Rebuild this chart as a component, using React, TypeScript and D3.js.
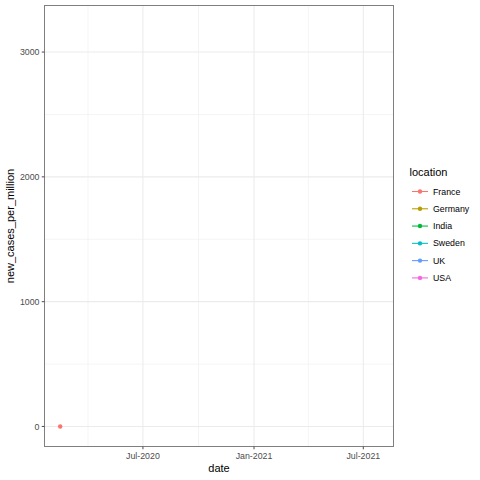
import React from "react";
import * as d3 from "d3";

const locations = ["France", "Germany", "India", "Sweden", "UK", "USA"];
const colors = ["#F8766D", "#B79F00", "#00BA38", "#00BFC4", "#619CFF", "#F564E3"];
const pointDates = ["2020-02-15"];
const pointLocations = ["France"];
const pointValues = [0];
const yTicks = [0, 1000, 2000, 3000];
const yMinor = [500, 1500, 2500];
const xTicks = ["2020-07-01", "2021-01-01", "2021-07-01"];
const xMinor = ["2020-04-01", "2020-10-01", "2021-04-01"];
const xTickLabels = ["Jul-2020", "Jan-2021", "Jul-2021"];

const W = 480, H = 480;
const L = 44.5, R = 393.5, T = 5.5, B = 446.5;
const font = "'Liberation Sans', Arial, Helvetica, sans-serif";

export default function App() {
  const parse = d3.utcParse("%Y-%m-%d");
  const x = d3.scaleUtc().domain([parse("2020-01-20")!, parse("2021-08-20")!]).range([L, R]);
  const y = d3.scaleLinear().domain([-160.6, 3373]).range([B, T]);
  return (
    <svg width={W} height={H} style={{ position: "absolute", left: 0, top: 0, background: "#fff" }}>
      <rect x={L} y={T} width={R - L} height={B - T} fill="#fff" />
      {yMinor.map((v) => (
        <line key={"ym" + v} x1={L} x2={R} y1={y(v)} y2={y(v)} stroke="#EBEBEB" strokeWidth={0.55} />
      ))}
      {xMinor.map((d) => (
        <line key={"xm" + d} y1={T} y2={B} x1={x(parse(d)!)} x2={x(parse(d)!)} stroke="#EBEBEB" strokeWidth={0.55} />
      ))}
      {yTicks.map((v) => (
        <line key={"yg" + v} x1={L} x2={R} y1={y(v)} y2={y(v)} stroke="#EBEBEB" strokeWidth={1.07} />
      ))}
      {xTicks.map((d) => (
        <line key={"xg" + d} y1={T} y2={B} x1={x(parse(d)!)} x2={x(parse(d)!)} stroke="#EBEBEB" strokeWidth={1.07} />
      ))}
      {pointDates.map((d, i) => (
        <circle key={"p" + i} cx={x(parse(d)!)} cy={y(pointValues[i])} r={2.2}
          fill={colors[locations.indexOf(pointLocations[i])]} />
      ))}
      <rect x={L} y={T} width={R - L} height={B - T} fill="none" stroke="#7F7F7F" strokeWidth={1} />
      {yTicks.map((v) => (
        <g key={"yt" + v}>
          <line x1={L - 2.75} x2={L} y1={y(v)} y2={y(v)} stroke="#555555" strokeWidth={1.07} />
          <text x={L - 5} y={y(v)} dy="0.35em" textAnchor="end" fontFamily={font} fontSize={8.8} fill="#4D4D4D">{v}</text>
        </g>
      ))}
      {xTicks.map((d, i) => (
        <g key={"xt" + d}>
          <line x1={x(parse(d)!)} x2={x(parse(d)!)} y1={B} y2={B + 2.75} stroke="#555555" strokeWidth={1.07} />
          <text x={x(parse(d)!)} y={B + 5} dy="0.8em" textAnchor="middle" fontFamily={font} fontSize={8.8} fill="#4D4D4D">{xTickLabels[i]}</text>
        </g>
      ))}
      <text x={(L + R) / 2} y={472} textAnchor="middle" fontFamily={font} fontSize={11} fill="#000">date</text>
      <text transform={`translate(13.5,${(T + B) / 2}) rotate(-90)`} textAnchor="middle" fontFamily={font} fontSize={11} fill="#000">new_cases_per_million</text>
      <text x={409.5} y={176} fontFamily={font} fontSize={11} fill="#000">location</text>
      {locations.map((loc, i) => {
        const cy = 191.5 + i * 17.28;
        return (
          <g key={loc}>
            <line x1={412} x2={428} y1={cy} y2={cy} stroke={colors[i]} strokeWidth={1.07} />
            <circle cx={420} cy={cy} r={2.2} fill={colors[i]} />
            <text x={433} y={cy} dy="0.35em" fontFamily={font} fontSize={8.8} fill="#000">{loc}</text>
          </g>
        );
      })}
    </svg>
  );
}
